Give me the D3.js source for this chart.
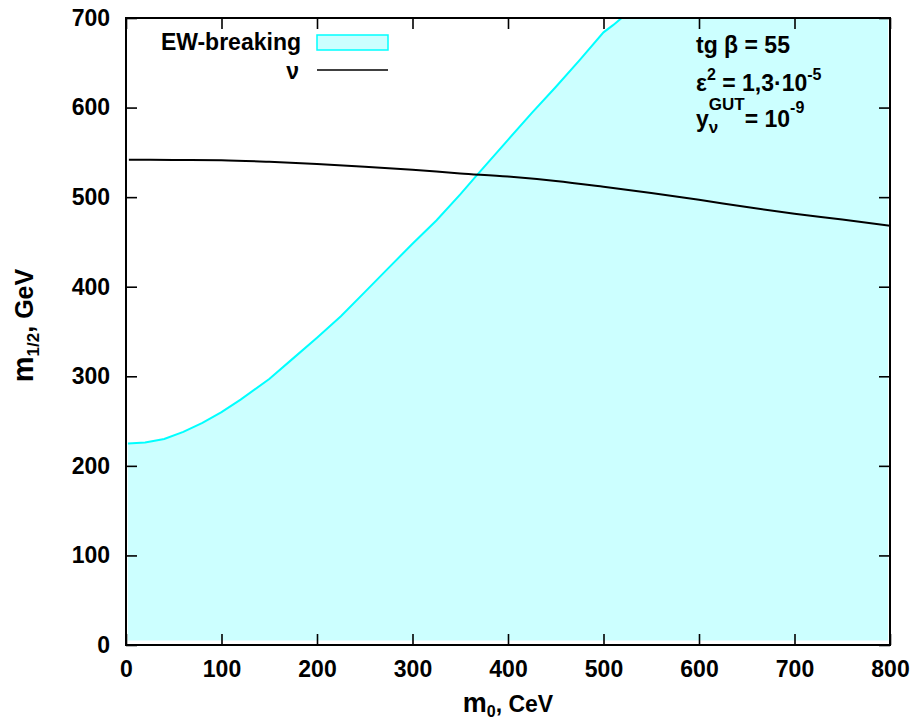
<!DOCTYPE html>
<html>
<head>
<meta charset="utf-8">
<script src="https://cdn.jsdelivr.net/npm/d3@7"></script>
<style>
  body { margin: 0; background: #fff; }
  text { font-family: "Liberation Sans", Arial, sans-serif; font-weight: bold; fill: #000; }
</style>
</head>
<body>
<svg id="chart" width="916" height="723"></svg>
<script>
// ---- data ----
const xTicks = [0, 100, 200, 300, 400, 500, 600, 700, 800];
const yTicks = [0, 100, 200, 300, 400, 500, 600, 700];

// EW-breaking boundary (m0, m1/2)
const ewM0  = [2, 20, 40, 60, 80, 100, 120, 150, 175, 200, 225, 250, 275, 300, 325, 350, 367, 400, 425, 450, 475, 500, 510, 519];
const ewM12 = [225, 226, 230, 238, 248, 260, 274, 297, 320, 343, 367, 394, 421, 448, 474, 503, 524, 564, 594, 623, 653, 684, 692, 700];
// extent of the filled region
const fillM0Min = 2, fillM0Max = 798, fillM12Min = 5, fillM12Max = 700;

// neutrino line
const nuM0  = [3, 50, 100, 150, 200, 250, 300, 350, 400, 450, 500, 550, 600, 650, 700, 750, 800];
const nuM12 = [541.7, 541.6, 541.2, 539.5, 537, 534, 530.5, 526.5, 523, 518, 511.5, 504.5, 497, 489, 481.5, 475, 468];

// ---- layout ----
const svg = d3.select("#chart");
const L = 126, R = 890, T = 18, B = 645;
const x = d3.scaleLinear().domain([0, 800]).range([L, R]);
const y = d3.scaleLinear().domain([0, 700]).range([B, T]);

svg.append("defs").append("clipPath").attr("id", "clip")
  .append("rect").attr("x", L).attr("y", T).attr("width", R - L).attr("height", B - T);

const plot = svg.append("g").attr("clip-path", "url(#clip)");

// fill polygon
const boundary = ewM0.map((m, i) => [m, ewM12[i]]);
const poly = [[fillM0Min, fillM12Min]].concat(boundary, [[fillM0Max, fillM12Max], [fillM0Max, fillM12Min]]);
const line = d3.line().x(d => x(d[0])).y(d => y(d[1]));
plot.append("path").attr("d", line(poly) + "Z").attr("fill", "#ccffff").attr("stroke", "none");
plot.append("path").attr("d", line(boundary)).attr("fill", "none").attr("stroke", "#00ffff").attr("stroke-width", 2);

// nu line
const nuPts = nuM0.map((m, i) => [m, nuM12[i]]);
plot.append("path").attr("d", d3.line().curve(d3.curveMonotoneX).x(d => x(d[0])).y(d => y(d[1]))(nuPts))
  .attr("fill", "none").attr("stroke", "#000").attr("stroke-width", 2);

// axes
const tickLen = 11;
function styleAxis(g) {
  g.select(".domain").remove();
  g.selectAll(".tick line").attr("stroke", "#000").attr("stroke-width", 1.6);
  g.selectAll(".tick text").style("font-size", "23px").style("font-family", '"Liberation Sans", Arial, sans-serif').style("font-weight", "bold").attr("fill", "#000");
}
svg.append("g").attr("transform", `translate(0,${B})`)
  .call(d3.axisBottom(x).tickValues(xTicks).tickSizeInner(-tickLen).tickSizeOuter(0).tickPadding(16).tickFormat(d3.format("d")))
  .call(styleAxis);
svg.append("g").attr("transform", `translate(${L},0)`)
  .call(d3.axisLeft(y).tickValues(yTicks).tickSizeInner(-tickLen).tickSizeOuter(0).tickPadding(16).tickFormat(d3.format("d")))
  .call(styleAxis);
svg.append("g").attr("transform", `translate(0,${T})`)
  .call(d3.axisTop(x).tickValues(xTicks).tickSizeInner(-tickLen).tickSizeOuter(0).tickFormat(""))
  .call(styleAxis);
svg.append("g").attr("transform", `translate(${R},0)`)
  .call(d3.axisRight(y).tickValues(yTicks).tickSizeInner(-tickLen).tickSizeOuter(0).tickFormat(""))
  .call(styleAxis);

// frame
svg.append("rect").attr("x", L).attr("y", T).attr("width", R - L).attr("height", B - T)
  .attr("fill", "none").attr("stroke", "#000").attr("stroke-width", 2);

// axis titles
const xt = svg.append("text").attr("x", (L + R) / 2).attr("y", 712).attr("text-anchor", "middle").style("font-size", "23px");
xt.append("tspan").text("m").style("font-size", "27px");
xt.append("tspan").text("0").style("font-size", "16px").attr("dy", 5);
xt.append("tspan").text(", CeV").attr("dy", -5);

const yt = svg.append("text").attr("transform", `translate(33,${(T + B) / 2 - 6}) rotate(-90)`)
  .attr("text-anchor", "middle").style("font-size", "25px");
yt.append("tspan").text("m").style("font-size", "29px");
yt.append("tspan").text("1/2").style("font-size", "17px").attr("dy", 6);
yt.append("tspan").text(", GeV").attr("dy", -6);

// legend
svg.append("text").attr("x", 301).attr("y", 50).attr("text-anchor", "end").style("font-size", "23px").text("EW-breaking");
svg.append("rect").attr("x", 317).attr("y", 35).attr("width", 71).attr("height", 15)
  .attr("fill", "#ccffff").attr("stroke", "#00ffff").attr("stroke-width", 1.5);
svg.append("text").attr("x", 299).attr("y", 79).attr("text-anchor", "end").style("font-size", "23px").text("ν");
svg.append("line").attr("x1", 317).attr("x2", 388).attr("y1", 70).attr("y2", 70).attr("stroke", "#000").attr("stroke-width", 1.6);

// annotation
const ax = 696;
svg.append("text").attr("x", ax).attr("y", 53).style("font-size", "23px").text("tg β = 55");

const t2 = svg.append("text").attr("x", ax).attr("y", 91).style("font-size", "23px");
t2.append("tspan").text("ε");
t2.append("tspan").text("2").style("font-size", "16px").attr("dy", -11);
t2.append("tspan").text(" = 1,3·10").attr("dy", 11);
t2.append("tspan").text("-5").style("font-size", "16px").attr("dy", -11);

const yEl = svg.append("text").attr("x", ax).attr("y", 127).style("font-size", "23px").text("y");
const yEnd = ax + yEl.node().getComputedTextLength();
svg.append("text").attr("x", yEnd).attr("y", 133).style("font-size", "17px").text("ν");
const gut = svg.append("text").attr("x", yEnd).attr("y", 110).style("font-size", "17px").text("GUT");
const gEnd = yEnd + gut.node().getComputedTextLength();
const t3 = svg.append("text").attr("x", gEnd).attr("y", 127).style("font-size", "23px");
t3.append("tspan").text(" = 10");
t3.append("tspan").text("-9").style("font-size", "16px").attr("dy", -14);
</script>
</body>
</html>
